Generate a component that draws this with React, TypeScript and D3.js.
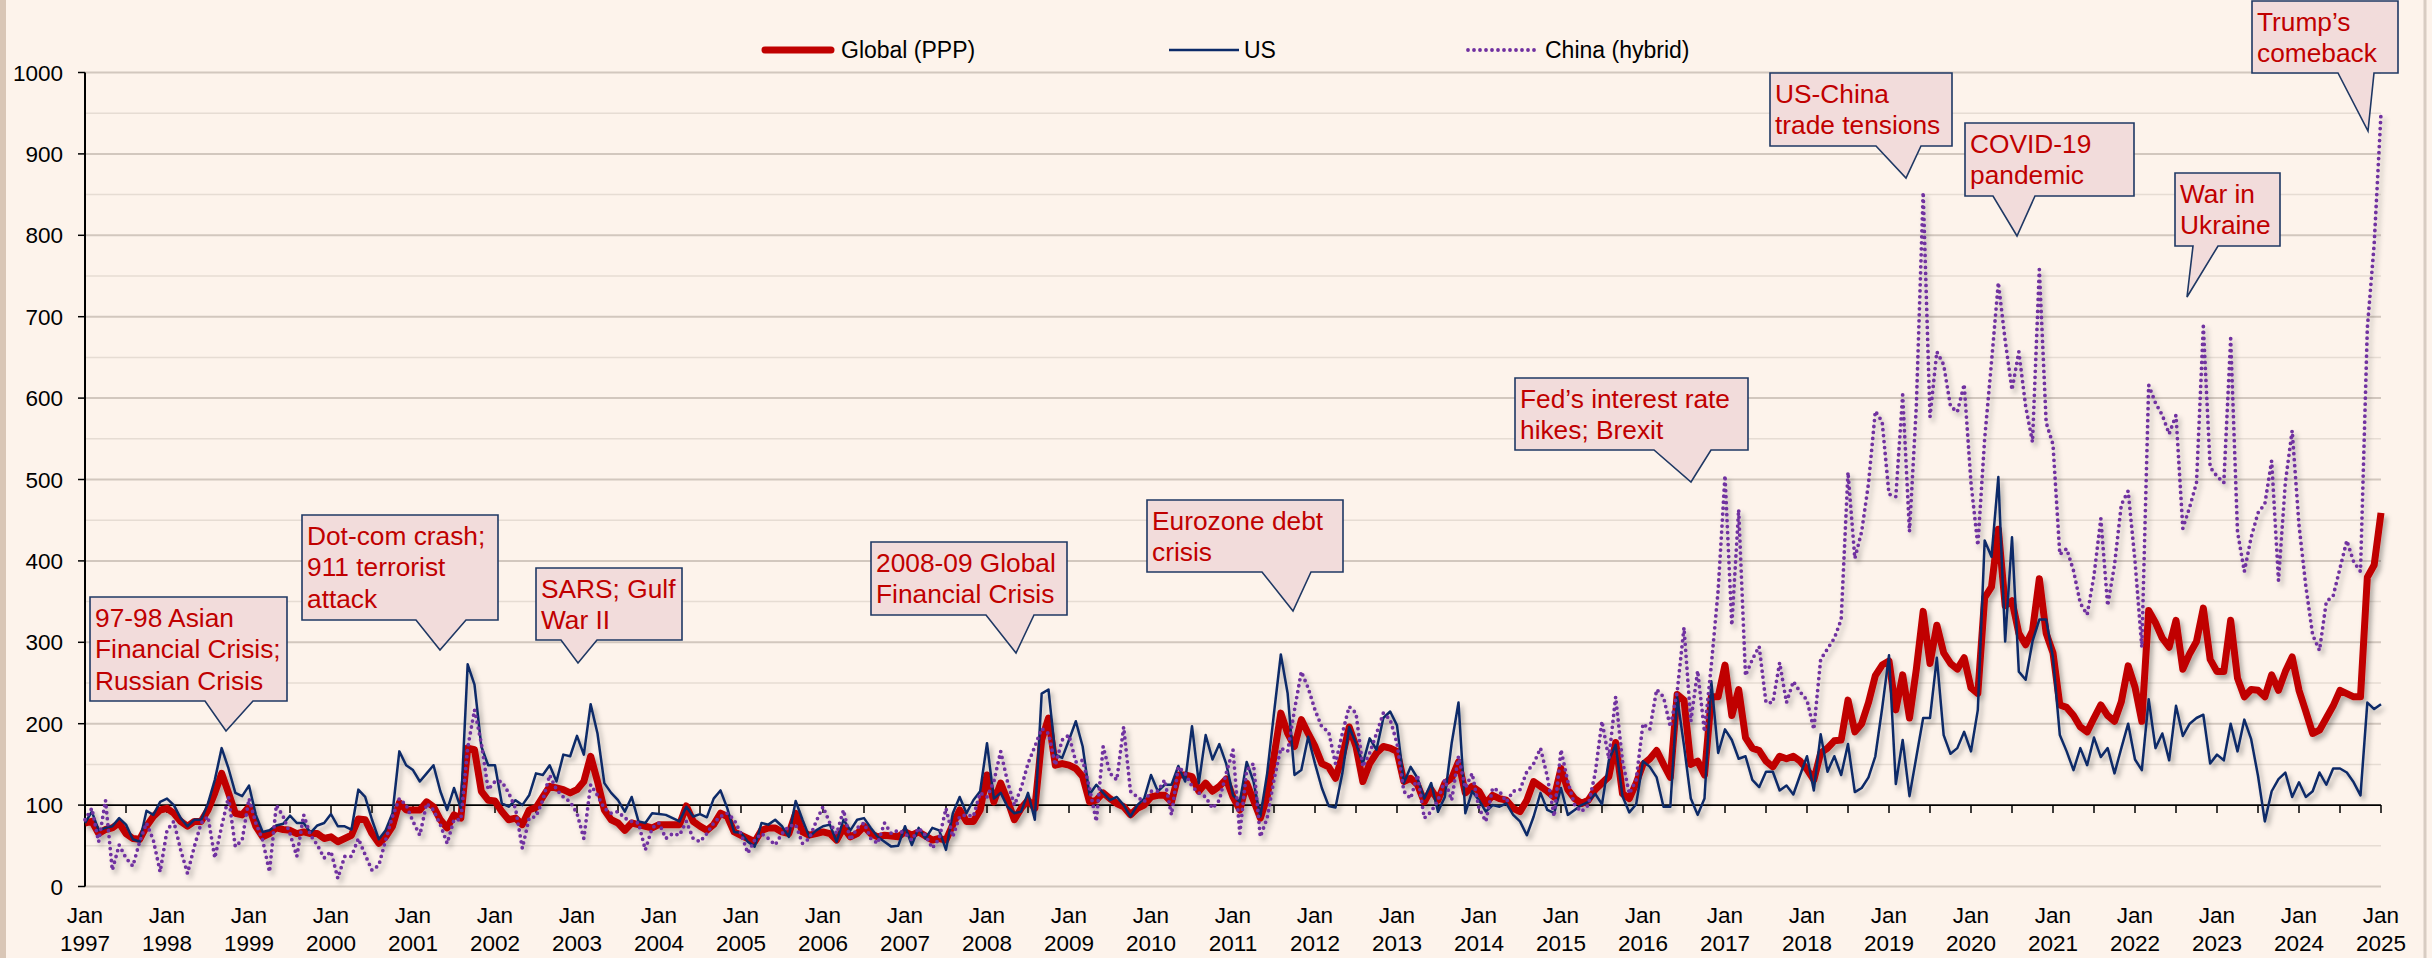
import { useEffect, useRef } from 'react';
import * as d3 from 'd3';

// Monthly index values, Jan 1997 .. Jan 2025 (one row per year)
const globalPPP = [
  78, 80, 65, 70, 72, 78, 65, 59, 58, 74, 86, 94,
  96, 90, 80, 74, 80, 80, 94, 115, 139, 115, 90, 88,
  98, 74, 61, 65, 72, 70, 69, 65, 67, 65, 65, 59,
  61, 55, 59, 63, 83, 82, 65, 53, 61, 74, 103, 94,
  94, 94, 104, 98, 82, 72, 88, 84, 170, 168, 117, 106,
  105, 92, 82, 84, 76, 94, 97, 110, 123, 121, 119, 115,
  119, 129, 160, 129, 94, 82, 78, 69, 78, 76, 74, 72,
  76, 76, 76, 76, 99, 80, 74, 69, 76, 90, 86, 67,
  63, 59, 55, 69, 72, 72, 67, 65, 90, 67, 63, 65,
  67, 65, 57, 72, 61, 65, 74, 65, 61, 63, 62, 61,
  67, 63, 67, 62, 57, 59, 57, 76, 94, 80, 80, 94,
  137, 104, 127, 106, 82, 96, 106, 96, 180, 207, 149, 151,
  149, 145, 135, 104, 106, 115, 108, 102, 98, 88, 96, 100,
  110, 112, 112, 104, 137, 137, 135, 117, 127, 117, 123, 132,
  110, 94, 127, 106, 84, 110, 160, 213, 188, 172, 205, 188,
  172, 151, 147, 133, 160, 196, 172, 129, 151, 164, 172, 170,
  166, 129, 133, 125, 104, 119, 106, 127, 133, 153, 115, 123,
  117, 102, 112, 108, 106, 96, 92, 106, 129, 123, 117, 110,
  145, 119, 108, 102, 106, 119, 127, 135, 177, 114, 108, 127,
  150, 157, 167, 150, 134, 236, 229, 150, 154, 137, 233, 233,
  272, 210, 242, 183, 170, 167, 154, 147, 160, 157, 160, 154,
  144, 131, 164, 170, 179, 180, 229, 190, 200, 226, 259, 272,
  277, 217, 260, 207, 267, 338, 274, 321, 287, 274, 267, 281,
  244, 237, 355, 368, 439, 345, 351, 311, 297, 314, 378, 311,
  287, 223, 220, 210, 196, 190, 207, 223, 210, 203, 227, 271,
  245, 203, 339, 324, 305, 294, 327, 267, 286, 301, 342, 279,
  264, 264, 327, 256, 233, 242, 241, 233, 260, 241, 264, 282,
  241, 215, 188, 192, 207, 222, 241, 237, 233, 233, 380, 395,
  459,
];

const us = [
  78, 92, 69, 72, 74, 84, 76, 58, 55, 93, 88, 104,
  108, 100, 84, 74, 82, 82, 102, 131, 170, 145, 115, 111,
  124, 88, 67, 69, 75, 77, 87, 78, 78, 66, 75, 78,
  89, 74, 74, 70, 119, 110, 82, 58, 69, 90, 166, 149,
  143, 129, 139, 149, 117, 94, 121, 96, 273, 248, 172, 149,
  149, 102, 98, 106, 100, 112, 139, 137, 149, 129, 162, 160,
  185, 162, 224, 188, 127, 115, 106, 92, 110, 80, 78, 90,
  89, 88, 84, 80, 98, 86, 89, 85, 108, 118, 96, 67,
  66, 55, 49, 78, 76, 82, 74, 61, 105, 82, 61, 69,
  74, 76, 55, 82, 69, 82, 84, 72, 61, 55, 49, 50,
  74, 51, 72, 59, 72, 69, 45, 90, 110, 90, 106, 117,
  176, 108, 115, 98, 90, 92, 115, 82, 237, 242, 162, 158,
  180, 203, 172, 113, 125, 115, 106, 110, 100, 86, 100, 108,
  137, 117, 125, 125, 148, 129, 197, 127, 186, 156, 175, 151,
  112, 104, 153, 129, 86, 139, 213, 285, 237, 137, 143, 184,
  151, 121, 99, 97, 139, 196, 176, 151, 182, 168, 207, 215,
  198, 127, 147, 133, 108, 127, 92, 110, 176, 226, 90, 117,
  106, 92, 100, 98, 102, 88, 80, 63, 86, 115, 94, 90,
  121, 88, 94, 100, 104, 114, 101, 155, 174, 111, 91, 101,
  154, 147, 134, 98, 98, 233, 173, 108, 88, 108, 252, 164,
  193, 180, 157, 160, 131, 122, 141, 141, 118, 124, 113, 137,
  160, 118, 187, 141, 160, 137, 175, 116, 121, 134, 160, 219,
  284, 126, 180, 111, 159, 207, 207, 281, 186, 163, 170, 190,
  166, 217, 425, 405, 503, 301, 429, 264, 254, 301, 328, 328,
  281, 186, 166, 143, 170, 149, 183, 159, 170, 139, 170, 200,
  156, 143, 230, 170, 188, 155, 222, 185, 200, 207, 211, 151,
  162, 155, 200, 166, 205, 181, 136, 80, 117, 132, 140, 110,
  128, 110, 117, 140, 125, 145, 145, 140, 128, 112, 226, 218,
  224,
];

const china = [
  82, 96, 55, 106, 20, 51, 35, 25, 55, 78, 57, 18,
  69, 80, 45, 16, 49, 78, 86, 35, 74, 110, 49, 57,
  108, 78, 57, 18, 100, 86, 65, 37, 88, 63, 51, 35,
  43, 10, 37, 37, 59, 39, 20, 26, 57, 86, 108, 100,
  80, 63, 102, 94, 76, 53, 82, 82, 170, 217, 176, 119,
  129, 129, 115, 96, 47, 84, 86, 106, 137, 119, 110, 104,
  90, 59, 125, 112, 96, 90, 92, 84, 80, 78, 45, 72,
  78, 59, 65, 63, 80, 59, 55, 65, 78, 86, 90, 82,
  65, 41, 57, 65, 59, 51, 65, 74, 76, 53, 59, 80,
  98, 78, 65, 94, 57, 72, 78, 59, 53, 78, 65, 69,
  65, 57, 72, 63, 47, 59, 96, 61, 86, 88, 86, 115,
  110, 129, 166, 129, 100, 121, 151, 172, 194, 188, 149, 180,
  186, 153, 155, 121, 80, 172, 139, 131, 196, 117, 110, 104,
  117, 117, 131, 88, 147, 139, 123, 115, 110, 96, 106, 139,
  168, 65, 143, 151, 61, 84, 131, 170, 166, 217, 264, 244,
  217, 196, 190, 151, 188, 221, 213, 147, 164, 188, 213, 205,
  176, 117, 108, 137, 84, 92, 106, 131, 106, 160, 121, 139,
  96, 80, 121, 117, 104, 117, 119, 141, 151, 170, 135, 86,
  168, 129, 100, 92, 100, 139, 203, 157, 233, 154, 114, 131,
  200, 193, 242, 233, 196, 239, 318, 203, 265, 190, 272, 364,
  505, 321, 463, 259, 279, 295, 226, 226, 275, 226, 252, 239,
  229, 193, 279, 292, 305, 328, 509, 403, 436, 495, 584, 571,
  482, 479, 604, 436, 590, 853, 577, 657, 641, 590, 583, 617,
  496, 419, 550, 644, 742, 671, 610, 657, 590, 546, 758, 570,
  543, 408, 415, 388, 348, 334, 382, 452, 345, 395, 469, 486,
  400, 294, 616, 594, 579, 556, 579, 440, 466, 496, 688, 515,
  504, 496, 673, 436, 387, 429, 459, 470, 523, 376, 496, 560,
  444, 369, 309, 290, 350, 357, 391, 425, 399, 387, 686, 789,
  950,
];

const yTicks = [0, 100, 200, 300, 400, 500, 600, 700, 800, 900, 1000];
const yMinorGrid = [50, 150, 250, 350, 450, 550, 650, 750, 850, 950];
const years = [
  1997, 1998, 1999, 2000, 2001, 2002, 2003, 2004, 2005, 2006, 2007, 2008, 2009, 2010,
  2011, 2012, 2013, 2014, 2015, 2016, 2017, 2018, 2019, 2020, 2021, 2022, 2023, 2024, 2025,
];

const annotationTexts = [
  ['97-98 Asian', 'Financial Crisis;', 'Russian Crisis'],
  ['Dot-com crash;', '911 terrorist', 'attack'],
  ['SARS; Gulf', 'War II'],
  ['2008-09 Global', 'Financial Crisis'],
  ['Eurozone debt', 'crisis'],
  ['Fed\u2019s interest rate', 'hikes; Brexit'],
  ['US-China', 'trade tensions'],
  ['COVID-19', 'pandemic'],
  ['War in', 'Ukraine'],
  ['Trump\u2019s', 'comeback'],
];

// callout boxes: [left, top, right, bottom], pointer base [x1, x2], tip [x, y]
const calloutLayout = [
  { box: [90, 597, 287, 701], base: [205, 253], tip: [226, 731] },
  { box: [302, 515, 498, 620], base: [416, 466], tip: [440, 650] },
  { box: [536, 568, 682, 640], base: [561, 597], tip: [578, 663] },
  { box: [871, 542, 1067, 615], base: [986, 1034], tip: [1016, 653] },
  { box: [1147, 500, 1343, 572], base: [1262, 1311], tip: [1293, 611] },
  { box: [1515, 378, 1748, 450], base: [1654, 1711], tip: [1691, 482] },
  { box: [1770, 73, 1952, 146], base: [1876, 1921], tip: [1906, 178] },
  { box: [1965, 123, 2134, 196], base: [1993, 2035], tip: [2017, 236] },
  { box: [2175, 173, 2280, 246], base: [2193, 2218], tip: [2187, 297] },
  { box: [2252, 1, 2398, 73], base: [2338, 2374], tip: [2368, 131] },
];

const FONT = 'Liberation Sans, Arial, Helvetica, sans-serif';

export default function App() {
  const svgRef = useRef(null);

  useEffect(() => {
    const svg = d3.select(svgRef.current);
    svg.selectAll('*').remove();

    const W = 2432, H = 958;
    const nMonths = globalPPP.length - 1;

    const x = d3.scaleLinear().domain([0, 336]).range([85, 2381]);
    const y = d3.scaleLinear().domain([0, 1000]).range([886.5, 72.5]);

    // background + frame
    svg.append('rect').attr('width', W).attr('height', H).attr('fill', '#FDF3EB');
    svg.append('line').attr('x1', 3).attr('x2', 3).attr('y1', 0).attr('y2', H)
      .attr('stroke', '#D9C6B6').attr('stroke-width', 6);
    svg.append('line').attr('x1', 2425).attr('x2', 2425).attr('y1', 0).attr('y2', H)
      .attr('stroke', '#D8CCC2').attr('stroke-width', 3);

    const defs = svg.append('defs');
    const filter = defs.append('filter').attr('id', 'shadow')
      .attr('x', '-5%').attr('y', '-5%').attr('width', '110%').attr('height', '115%');
    filter.append('feDropShadow')
      .attr('dx', 3).attr('dy', 4).attr('stdDeviation', 2.5)
      .attr('flood-color', '#000').attr('flood-opacity', 0.3);

    // gridlines
    svg.append('g').selectAll('line')
      .data(yMinorGrid)
      .join('line')
      .attr('x1', x(0)).attr('x2', x(nMonths))
      .attr('y1', d => y(d)).attr('y2', d => y(d))
      .attr('stroke', '#E6DCD3').attr('stroke-width', 1.5);

    svg.append('g').selectAll('line')
      .data(yTicks.filter(d => d !== 100))
      .join('line')
      .attr('x1', x(0)).attr('x2', x(nMonths))
      .attr('y1', d => y(d)).attr('y2', d => y(d))
      .attr('stroke', '#D2C7BE').attr('stroke-width', 2);

    // y axis
    svg.append('line')
      .attr('x1', x(0)).attr('x2', x(0)).attr('y1', y(0)).attr('y2', y(1000))
      .attr('stroke', '#000').attr('stroke-width', 2);
    svg.append('g').selectAll('line')
      .data(yTicks)
      .join('line')
      .attr('x1', x(0) - 7).attr('x2', x(0))
      .attr('y1', d => y(d)).attr('y2', d => y(d))
      .attr('stroke', '#000').attr('stroke-width', 1.5);
    svg.append('g').selectAll('text')
      .data(yTicks)
      .join('text')
      .attr('x', 63).attr('y', d => y(d) + 8)
      .attr('text-anchor', 'end')
      .attr('font-family', FONT).attr('font-size', 22.5).attr('fill', '#000')
      .text(d => d);

    // x axis crosses at 100
    svg.append('line')
      .attr('x1', x(0)).attr('x2', x(nMonths)).attr('y1', y(100)).attr('y2', y(100))
      .attr('stroke', '#000').attr('stroke-width', 1.6);
    const halfYears = d3.range(0, nMonths + 1, 6);
    svg.append('g').selectAll('line')
      .data(halfYears)
      .join('line')
      .attr('x1', d => x(d)).attr('x2', d => x(d))
      .attr('y1', y(100)).attr('y2', y(100) + 8)
      .attr('stroke', '#000').attr('stroke-width', 1.5);

    const xl = svg.append('g')
      .attr('font-family', FONT).attr('font-size', 22.5).attr('fill', '#000')
      .attr('text-anchor', 'middle');
    years.forEach((yr, i) => {
      const t = xl.append('text').attr('x', x(i * 12));
      t.append('tspan').attr('x', x(i * 12)).attr('y', 923).text('Jan');
      t.append('tspan').attr('x', x(i * 12)).attr('y', 951).text(yr);
    });

    // series
    const line = d3.line<number>()
      .x((d, i) => x(i))
      .y(d => y(d));

    const series = svg.append('g').attr('filter', 'url(#shadow)');
    series.append('path')
      .datum(globalPPP)
      .attr('fill', 'none')
      .attr('stroke', '#C00000')
      .attr('stroke-width', 7)
      .attr('stroke-linejoin', 'round')
      .attr('d', line);
    series.append('path')
      .datum(us)
      .attr('fill', 'none')
      .attr('stroke', '#0C2A68')
      .attr('stroke-width', 2.5)
      .attr('stroke-linejoin', 'round')
      .attr('d', line);
    series.append('path')
      .datum(china)
      .attr('fill', 'none')
      .attr('stroke', '#7030A0')
      .attr('stroke-width', 3.8)
      .attr('stroke-linecap', 'round')
      .attr('stroke-dasharray', '0 6')
      .attr('d', line);

    // legend
    const lg = svg.append('g').attr('font-family', FONT).attr('font-size', 23).attr('fill', '#000');
    lg.append('line').attr('x1', 765).attr('x2', 831).attr('y1', 50).attr('y2', 50)
      .attr('stroke', '#C00000').attr('stroke-width', 7).attr('stroke-linecap', 'round');
    lg.append('text').attr('x', 841).attr('y', 58).text('Global (PPP)');
    lg.append('line').attr('x1', 1169).attr('x2', 1239).attr('y1', 50).attr('y2', 50)
      .attr('stroke', '#0C2A68').attr('stroke-width', 2.5);
    lg.append('text').attr('x', 1244).attr('y', 58).text('US');
    lg.append('line').attr('x1', 1468).attr('x2', 1537).attr('y1', 50).attr('y2', 50)
      .attr('stroke', '#7030A0').attr('stroke-width', 3.8)
      .attr('stroke-linecap', 'round').attr('stroke-dasharray', '0 6');
    lg.append('text').attr('x', 1545).attr('y', 58).text('China (hybrid)');

    // callouts
    const cg = svg.append('g');
    calloutLayout.forEach((c, i) => {
      const [l, t, r, b] = c.box;
      const p = d3.path();
      p.moveTo(l, t);
      p.lineTo(r, t);
      p.lineTo(r, b);
      p.lineTo(c.base[1], b);
      p.lineTo(c.tip[0], c.tip[1]);
      p.lineTo(c.base[0], b);
      p.lineTo(l, b);
      p.closePath();
      cg.append('path')
        .attr('d', p.toString())
        .attr('fill', '#F2DCDB')
        .attr('stroke', '#1F3864')
        .attr('stroke-width', 1.6)
        .attr('stroke-linejoin', 'miter');
      const txt = cg.append('text')
        .attr('font-family', FONT).attr('font-size', 26.3).attr('fill', '#C00000');
      annotationTexts[i].forEach((s, j) => {
        txt.append('tspan').attr('x', l + 5).attr('y', t + 29.5 + j * 31.7).text(s);
      });
    });
  }, []);

  return (
    <svg
      ref={svgRef}
      width={2432}
      height={958}
      style={{ position: 'absolute', left: 0, top: 0, display: 'block' }}
    />
  );
}
